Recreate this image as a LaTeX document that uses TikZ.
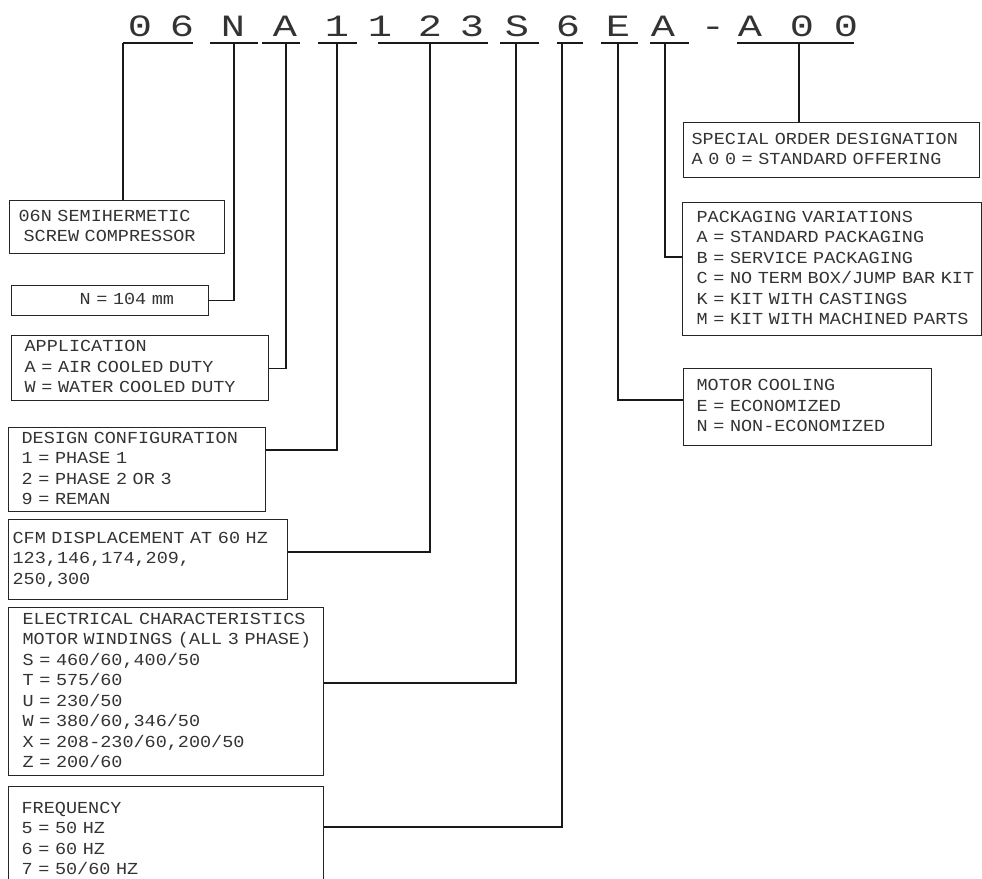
\documentclass[tikz,border=0pt]{standalone}
\usepackage{fontspec}
\usetikzlibrary{calc}
\newfontfamily\headfont[FakeStretch=1.3]{Liberation Mono}
\newfontfamily\keyfont[FakeStretch=1.1]{Liberation Mono}
\newcommand{\keylines}[1]{\begin{tabular}{@{}l@{}}#1\end{tabular}}
\tikzset{
  digit/.style={anchor=base, inner sep=0pt, text=black!80, font=\headfont\fontsize{31}{36}\selectfont},
  keybox/.style={draw=black!85, line width=1.3pt, anchor=north west, align=left,
    inner ysep=0pt, text=black!80, font=\keyfont\fontsize{16.8}{20.5}\selectfont},
  bar/.style={draw=black!90, line width=1.3pt}}

\begin{document}
\begin{tikzpicture}[x=1pt,y=-1pt]
\useasboundingbox (0,0) rectangle (982,878);
\clip (0,0) rectangle (982,878);
\foreach \ch/\x [count=\i] in {0/140,6/182,N/233,A/285,1/337,1/380,2/430,3/472,S/517,6/568,E/618,A/663,-/713,A/750,0/802,0/846}
  \node[digit] (d\i) at (\x,36) {\ch};
\foreach \a/\b in {123/193,210/258,262/300,318/357,378/488,500/539,557/583,601/638,650/689,737/854}
  \draw[bar] (\a,43) -- (\b,43);
\coordinate (t06) at (123,43);
\coordinate (tN) at (234,43);
\coordinate (tA) at (286,43);
\coordinate (t1) at (337,43);
\coordinate (tCFM) at (430,43);
\coordinate (tS) at (516,43);
\coordinate (t6) at (562,43);
\coordinate (tE) at (618,43);
\coordinate (tP) at (665,43);
\coordinate (tX) at (799,43);

\node[keybox, inner xsep=9pt, text width=197pt, minimum height=53pt] (sem) at (9,200)
  {\keylines{06N SEMIHERMETIC\\\hspace*{5pt}SCREW COMPRESSOR}};
\node[keybox, inner xsep=68pt, text width=61pt, minimum height=30pt] (nbox) at (11,285)
  {\keylines{N = 104 mm}};
\node[keybox, inner xsep=13pt, text width=231pt, minimum height=65pt] (app) at (11,335)
  {\keylines{APPLICATION\\A = AIR COOLED DUTY\\W = WATER COOLED DUTY}};
\node[keybox, inner xsep=13pt, text width=231pt, minimum height=84pt] (design) at (8,427)
  {\keylines{DESIGN CONFIGURATION\\1 = PHASE 1\\2 = PHASE 2 OR 3\\9 = REMAN}};
\node[keybox, inner xsep=4pt, text width=271pt, minimum height=80pt] (cfm) at (8,519)
  {\keylines{CFM DISPLACEMENT AT 60 HZ\\123,146,174,209,\\250,300}};
\node[keybox, inner xsep=14pt, text width=287pt, minimum height=168pt] (elec) at (8,607)
  {\keylines{ELECTRICAL CHARACTERISTICS\\MOTOR WINDINGS (ALL 3 PHASE)\\S = 460/60,400/50\\T = 575/60\\U = 230/50\\W = 380/60,346/50\\X = 208-230/60,200/50\\Z = 200/60}};
\node[keybox, inner xsep=13pt, text width=289pt, minimum height=106pt] (freq) at (8,786)
  {\keylines{FREQUENCY\\5 = 50 HZ\\6 = 60 HZ\\7 = 50/60 HZ\\ }};
\node[keybox, inner xsep=8pt, text width=280pt, minimum height=55pt] (special) at (683,122)
  {\keylines{SPECIAL ORDER DESIGNATION\\A 0 0 = STANDARD OFFERING}};
\node[keybox, inner xsep=14pt, text width=271pt, minimum height=133pt] (pack) at (682,202)
  {\keylines{PACKAGING VARIATIONS\\A = STANDARD PACKAGING\\B = SERVICE PACKAGING\\C = NO TERM BOX/JUMP BAR KIT\\K = KIT WITH CASTINGS\\M = KIT WITH MACHINED PARTS}};
\node[keybox, inner xsep=13pt, text width=222pt, minimum height=77pt] (motor) at (683,368)
  {\keylines{MOTOR COOLING\\E = ECONOMIZED\\N = NON-ECONOMIZED}};

\draw[bar] (t06) -- (t06 |- sem.north);
\draw[bar] (tN) |- (nbox.east);
\draw[bar] (tA) |- (app.east);
\draw[bar] (t1) |- ($(design.north east)+(0,23)$);
\draw[bar] (tCFM) |- ($(cfm.north east)+(0,33)$);
\draw[bar] (tS) |- ($(elec.north east)+(0,76)$);
\draw[bar] (t6) |- ($(freq.north east)+(0,41)$);
\draw[bar] (tX) -- (tX |- special.north);
\draw[bar] (tP) |- ($(pack.north west)+(0,55)$);
\draw[bar] (tE) |- ($(motor.north west)+(0,32)$);
\end{tikzpicture}
\end{document}
